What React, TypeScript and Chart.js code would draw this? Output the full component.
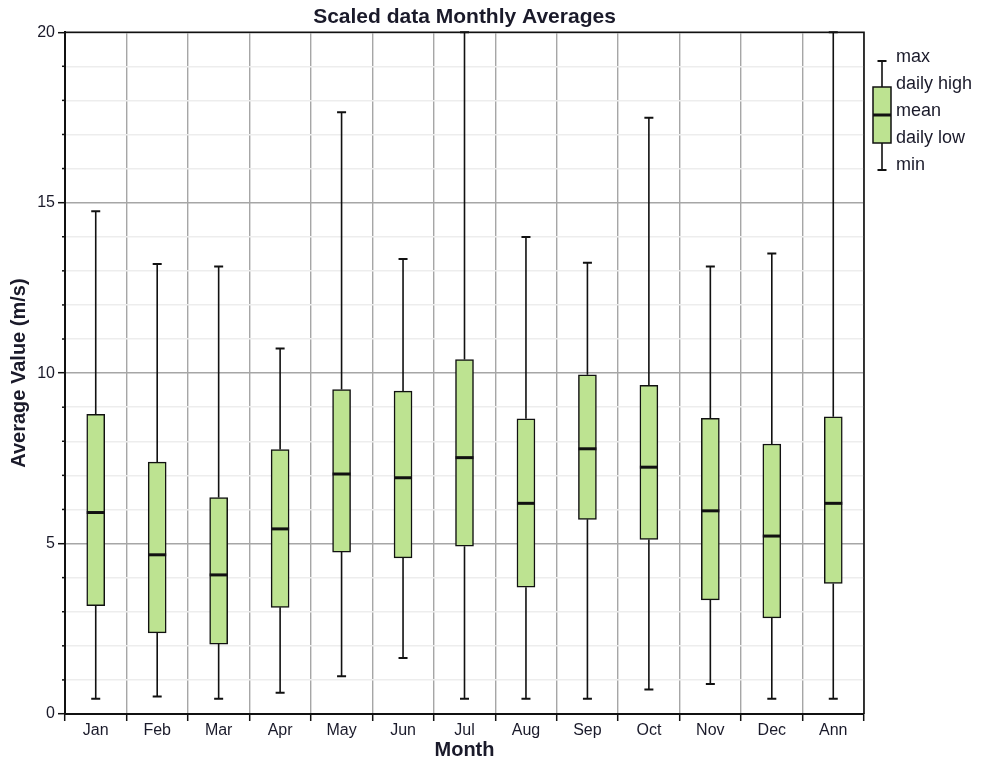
import React, { useEffect, useRef } from 'react';
import { Chart, registerables } from 'chart.js';

Chart.register(...registerables);

// ---- data ----
const months = ['Jan', 'Feb', 'Mar', 'Apr', 'May', 'Jun', 'Jul', 'Aug', 'Sep', 'Oct', 'Nov', 'Dec', 'Ann'];
const maxVals = [14.75, 13.2, 13.13, 10.72, 17.65, 13.35, 20.0, 13.99, 13.24, 17.49, 13.13, 13.51, 20.0];
const dailyHigh = [8.79, 7.39, 6.35, 7.76, 9.52, 9.47, 10.4, 8.66, 9.95, 9.64, 8.67, 7.92, 8.72];
const meanVals = [5.91, 4.67, 4.08, 5.43, 7.04, 6.93, 7.52, 6.18, 7.78, 7.24, 5.96, 5.22, 6.18];
const dailyLow = [3.18, 2.38, 2.05, 3.13, 4.75, 4.58, 4.92, 3.72, 5.71, 5.12, 3.35, 2.82, 3.83];
const minVals = [0.45, 0.51, 0.45, 0.62, 1.11, 1.64, 0.45, 0.45, 0.45, 0.72, 0.88, 0.45, 0.45];
const legendLabels = ['max', 'daily high', 'mean', 'daily low', 'min'];
const titleText = 'Scaled data Monthly Averages';
const xTitle = 'Month';
const yTitle = 'Average Value (m/s)';

// ---- styles ----
const FONT = "'Liberation Sans', Arial, sans-serif";
const INK = '#111111';
const TEXT = '#1a1a2a';
const BOX_FILL = '#bde391';
const GRID_MAJOR = '#a6a6a6';
const GRID_MINOR = '#ededed';

const boxExtras = {
  id: 'boxExtras',
  beforeDatasetsDraw(chart: any) {
    const { ctx } = chart;
    const x = chart.scales.x;
    const y = chart.scales.y;
    ctx.save();
    ctx.strokeStyle = INK;
    months.forEach((_, i) => {
      const cx = x.getPixelForValue(i);
      const yMax = y.getPixelForValue(maxVals[i]);
      const yHi = y.getPixelForValue(dailyHigh[i]);
      const yLo = y.getPixelForValue(dailyLow[i]);
      const yMin = y.getPixelForValue(minVals[i]);
      ctx.lineWidth = 1.6;
      ctx.beginPath();
      ctx.moveTo(cx, yMax);
      ctx.lineTo(cx, yHi);
      ctx.moveTo(cx, yLo);
      ctx.lineTo(cx, yMin);
      ctx.stroke();
      ctx.lineWidth = 2;
      ctx.beginPath();
      ctx.moveTo(cx - 4.5, yMax);
      ctx.lineTo(cx + 4.5, yMax);
      ctx.moveTo(cx - 4.5, yMin);
      ctx.lineTo(cx + 4.5, yMin);
      ctx.stroke();
    });
    ctx.restore();
  },
  afterDatasetsDraw(chart: any) {
    const { ctx } = chart;
    const x = chart.scales.x;
    const y = chart.scales.y;
    ctx.save();
    ctx.strokeStyle = INK;
    ctx.lineWidth = 3;
    months.forEach((_, i) => {
      const cx = x.getPixelForValue(i);
      const ym = y.getPixelForValue(meanVals[i]);
      ctx.beginPath();
      ctx.moveTo(cx - 9, ym);
      ctx.lineTo(cx + 9, ym);
      ctx.stroke();
    });
    ctx.restore();
  },
  afterDraw(chart: any) {
    const { ctx, chartArea } = chart;
    const y = chart.scales.y;
    ctx.save();
    // frame top & right
    ctx.strokeStyle = INK;
    ctx.lineWidth = 1.6;
    ctx.beginPath();
    ctx.moveTo(chartArea.left, chartArea.top);
    ctx.lineTo(chartArea.right, chartArea.top);
    ctx.lineTo(chartArea.right, chartArea.bottom);
    ctx.stroke();
    // minor ticks on y axis
    ctx.lineWidth = 1.5;
    for (let v = 0; v <= 20; v++) {
      if (v % 5 === 0) continue;
      const py = y.getPixelForValue(v);
      ctx.beginPath();
      ctx.moveTo(chartArea.left - 3, py);
      ctx.lineTo(chartArea.left, py);
      ctx.stroke();
    }
    // legend
    const lx = 882;
    const capTop = 61, boxTop = 87, meanY = 115, boxBot = 143, capBot = 170;
    ctx.lineWidth = 1.6;
    ctx.beginPath();
    ctx.moveTo(lx, capTop);
    ctx.lineTo(lx, boxTop);
    ctx.moveTo(lx, boxBot);
    ctx.lineTo(lx, capBot);
    ctx.stroke();
    ctx.lineWidth = 2;
    ctx.beginPath();
    ctx.moveTo(lx - 4.5, capTop);
    ctx.lineTo(lx + 4.5, capTop);
    ctx.moveTo(lx - 4.5, capBot);
    ctx.lineTo(lx + 4.5, capBot);
    ctx.stroke();
    ctx.fillStyle = BOX_FILL;
    ctx.fillRect(lx - 9, boxTop, 18, boxBot - boxTop);
    ctx.lineWidth = 1.5;
    ctx.strokeRect(lx - 9, boxTop, 18, boxBot - boxTop);
    ctx.lineWidth = 3;
    ctx.beginPath();
    ctx.moveTo(lx - 9, meanY);
    ctx.lineTo(lx + 9, meanY);
    ctx.stroke();
    ctx.fillStyle = TEXT;
    ctx.font = `18px ${FONT}`;
    ctx.textAlign = 'left';
    ctx.textBaseline = 'middle';
    const ys = [57, 84, 111, 138, 165];
    legendLabels.forEach((t, i) => ctx.fillText(t, 896, ys[i]));
    ctx.restore();
  },
};

export default function App() {
  const ref = useRef<HTMLCanvasElement | null>(null);
  useEffect(() => {
    if (!ref.current) return;
    const chart = new Chart(ref.current, {
      type: 'bar',
      data: {
        labels: months,
        datasets: [
          {
            label: 'daily range',
            data: months.map((_, i) => [dailyLow[i], dailyHigh[i]]) as any,
            backgroundColor: BOX_FILL,
            borderColor: INK,
            borderWidth: 1.5,
            borderSkipped: false,
            barThickness: 18,
          },
        ],
      },
      options: {
        animation: false,
        responsive: false,
        devicePixelRatio: 1,
        layout: { padding: { left: 0, right: 118, top: 0, bottom: 0 } },
        plugins: {
          legend: { display: false },
          tooltip: { enabled: false },
          title: {
            display: true,
            text: titleText,
            fullSize: false,
            color: TEXT,
            font: { family: FONT, size: 21, weight: 'bold' },
            padding: { top: 5, bottom: 2 },
          },
        },
        scales: {
          x: {
            type: 'category',
            offset: true,
            grid: {
              offset: true,
              color: GRID_MAJOR,
              lineWidth: 1.4,
              tickColor: INK,
              tickLength: 7,
              tickWidth: 1.5,
            },
            border: { color: INK, width: 2 },
            ticks: {
              color: TEXT,
              font: { family: FONT, size: 16 },
              padding: 0,
              maxRotation: 0,
              autoSkip: false,
            },
            title: {
              display: true,
              text: xTitle,
              color: TEXT,
              font: { family: FONT, size: 20, weight: 'bold' },
              padding: { top: 0, bottom: 0 },
            },
            afterFit: (s: any) => {
              s.height = 48;
            },
          },
          y: {
            type: 'linear',
            min: 0,
            max: 20,
            ticks: {
              stepSize: 1,
              autoSkip: false,
              color: TEXT,
              font: { family: FONT, size: 16 },
              padding: 3,
              callback: (v: any) => (Number(v) % 5 === 0 ? String(v) : ''),
            },
            grid: {
              color: (c: any) => (c.tick && c.tick.value % 5 === 0 ? GRID_MAJOR : GRID_MINOR),
              lineWidth: 1.4,
              tickColor: (c: any) => (c.tick && c.tick.value % 5 === 0 ? INK : 'rgba(0,0,0,0)'),
              tickLength: 7,
              tickWidth: 1.5,
            },
            border: { color: INK, width: 2 },
            title: {
              display: true,
              text: yTitle,
              color: TEXT,
              font: { family: FONT, size: 20, weight: 'bold' },
              padding: { top: 7, bottom: 0 },
            },
            afterFit: (s: any) => {
              s.width = 65;
            },
          },
        },
      } as any,
      plugins: [boxExtras],
    });
    return () => chart.destroy();
  }, []);
  return (
    <div style={{ position: 'absolute', left: 0, top: 0, width: 982, height: 762, background: '#fff' }}>
      <canvas ref={ref} width={982} height={762} style={{ display: 'block' }} />
    </div>
  );
}
